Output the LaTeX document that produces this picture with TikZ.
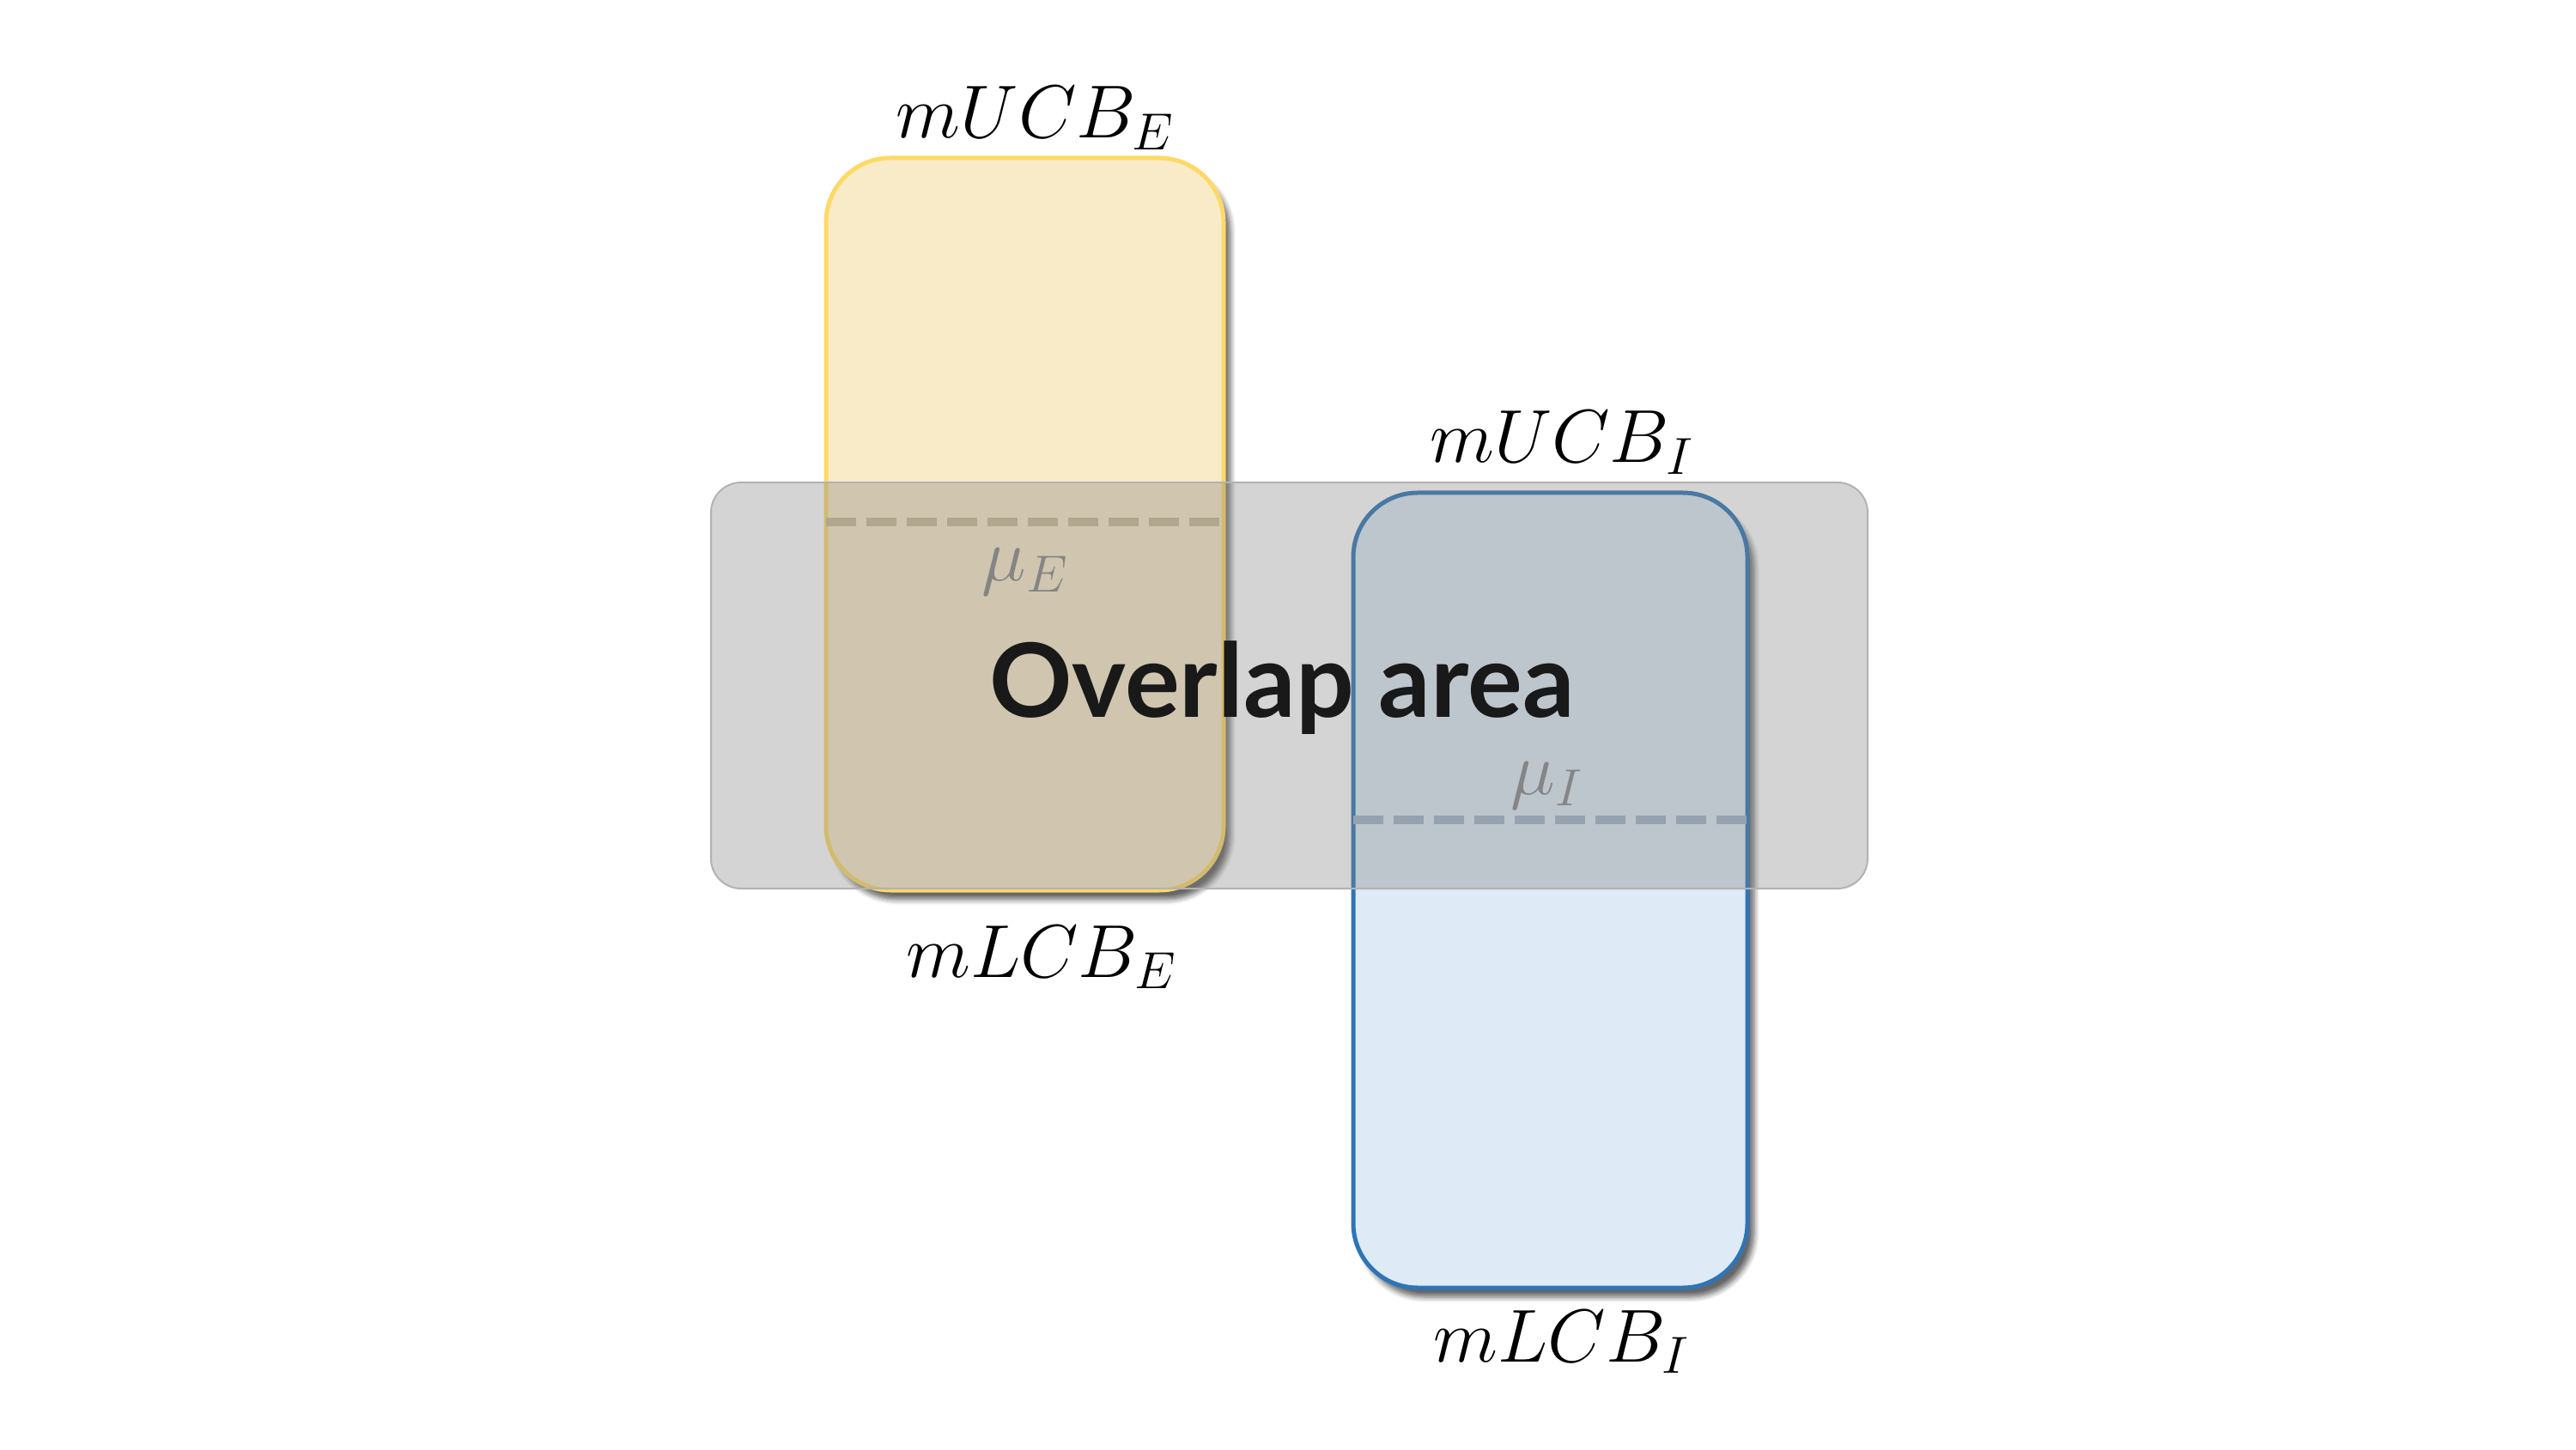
\documentclass[tikz,border=0pt]{standalone}
\usepackage{fontspec}
\newfontfamily\overlapfont{Lato}
\usetikzlibrary{shadows.blur}
\definecolor{yelfill}{HTML}{FAEBC8}
\definecolor{yelline}{HTML}{FFD966}
\definecolor{bluefill}{HTML}{DEEAF6}
\definecolor{blueline}{HTML}{2E75B6}
\definecolor{yeldash}{HTML}{C9BC98}
\definecolor{bluedash}{HTML}{A0B4C8}
\definecolor{ovgray}{HTML}{808080}
\definecolor{mugray}{HTML}{858585}
\tikzset{
  ciBox/.style={rounded corners=0.75cm,inner sep=0pt,outer sep=0pt,
    blur shadow={shadow xshift=0.08cm,shadow yshift=-0.11cm,shadow blur steps=6,shadow opacity=60}},
  ciE/.style={ciBox,draw=yelline,fill=yelfill,line width=0.05cm},
  ciI/.style={ciBox,draw=blueline,fill=bluefill,line width=0.05cm},
  meanLine/.style={dash pattern=on 0.35cm off 0.12cm,line width=0.1cm},
  overlapBox/.style={rounded corners=0.35cm,inner sep=0pt,outer sep=0pt,
    fill=ovgray,fill opacity=0.34,draw=black!30,line width=0.02cm},
  bndLabel/.style={anchor=base,inner sep=0pt,font=\fontsize{24}{28}\selectfont},
  muLabel/.style={inner sep=0pt,text=mugray,font=\fontsize{24}{28}\selectfont}
}
\begin{document}
\begin{tikzpicture}
  \useasboundingbox (0,0) rectangle (30,16.88);
  % confidence boxes
  \node[ciE,minimum width=4.63cm,minimum height=8.53cm] (boxE) at (11.935,10.775) {};
  \node[ciI,minimum width=4.59cm,minimum height=9.26cm] (boxI) at (18.055,6.51) {};
  % means
  \coordinate (mE) at (11.935,10.80);
  \coordinate (mI) at (18.055,7.33);
  \draw[meanLine,yeldash] (boxE.west |- mE) -- (boxE.east |- mE);
  \draw[meanLine,bluedash] (boxI.west |- mI) -- (boxI.east |- mI);
  % overlap
  \node[overlapBox,minimum width=13.47cm,minimum height=4.73cm] (ov) at (15.015,8.895) {};
  \node[muLabel] (muE) at (11.94,10.22) {$\mu_E$};
  \node[muLabel] (muI) at (18.02,7.73) {$\mu_I$};
  \node[anchor=base,inner sep=0pt,text=black!90,font=\overlapfont\bfseries\fontsize{34}{40}\selectfont] (ovtxt) at (14.93,8.52) {Overlap area};
  % bounds
  \node[bndLabel] (ucbE) at (12.06,15.27) {$mUCB_E$};
  \node[bndLabel] (lcbE) at (12.13,5.50) {$mLCB_E$};
  \node[bndLabel] (ucbI) at (18.19,11.49) {$mUCB_I$};
  \node[bndLabel] (lcbI) at (18.19,1.02) {$mLCB_I$};
\end{tikzpicture}
\end{document}
